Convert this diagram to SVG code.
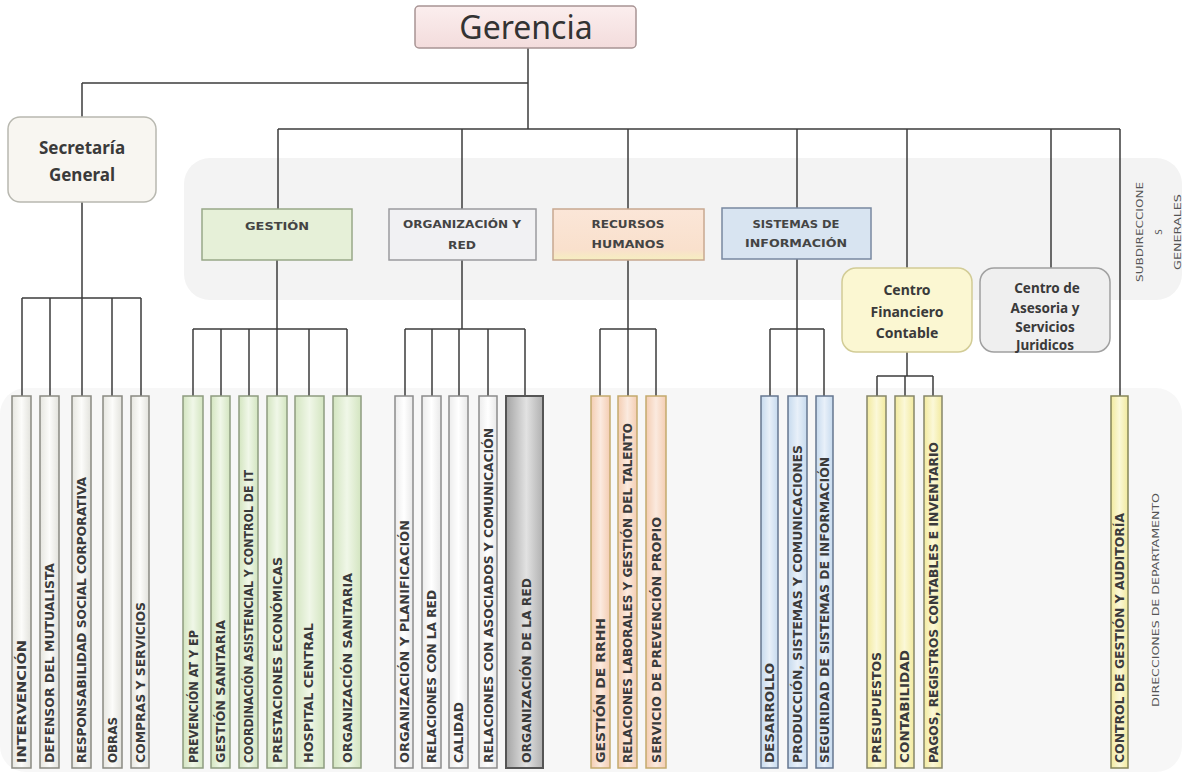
<svg xmlns="http://www.w3.org/2000/svg" width="1187" height="772" viewBox="0 0 1187 772">
<defs>
<style>
.ln{stroke:#3c3c3c;stroke-width:1.5;fill:none}
.col{stroke-width:1.5}
.ct{font-family:"DejaVu Sans Condensed","DejaVu Sans",sans-serif;font-weight:bold;font-size:12px;fill:#3a3a3a}
.bl{font-family:"DejaVu Sans Condensed","DejaVu Sans",sans-serif;font-weight:bold;font-size:11px;fill:#444;text-anchor:middle}
.nb{font-family:"Noto Sans","Open Sans",sans-serif;font-weight:bold;fill:#3a3a3a;text-anchor:middle}
.side{font-family:"DejaVu Sans Condensed","DejaVu Sans",sans-serif;font-size:9.5px;fill:#555;text-anchor:middle}
</style>
<linearGradient id="gGray" x1="0" x2="1" y1="0" y2="0"><stop offset="0" stop-color="#e6e6e0"/><stop offset="0.5" stop-color="#fcfcfa"/><stop offset="1" stop-color="#e2e2dc"/></linearGradient>
<linearGradient id="gGreen" x1="0" x2="1" y1="0" y2="0"><stop offset="0" stop-color="#d3e5c0"/><stop offset="0.5" stop-color="#f0f7e8"/><stop offset="1" stop-color="#d3e5c0"/></linearGradient>
<linearGradient id="gWhite" x1="0" x2="1" y1="0" y2="0"><stop offset="0" stop-color="#ececec"/><stop offset="0.5" stop-color="#ffffff"/><stop offset="1" stop-color="#e8e8e8"/></linearGradient>
<linearGradient id="gDark" x1="0" x2="1" y1="0" y2="0"><stop offset="0" stop-color="#a4a4a4"/><stop offset="0.55" stop-color="#e2e2e2"/><stop offset="1" stop-color="#b0b0b0"/></linearGradient>
<linearGradient id="gPeach" x1="0" x2="1" y1="0" y2="0"><stop offset="0" stop-color="#f4cdb2"/><stop offset="0.5" stop-color="#fbeadf"/><stop offset="1" stop-color="#f4cdb2"/></linearGradient>
<linearGradient id="gBlue" x1="0" x2="1" y1="0" y2="0"><stop offset="0" stop-color="#c6daee"/><stop offset="0.5" stop-color="#e8f0f9"/><stop offset="1" stop-color="#c6daee"/></linearGradient>
<linearGradient id="gYellow" x1="0" x2="1" y1="0" y2="0"><stop offset="0" stop-color="#f2ea9e"/><stop offset="0.5" stop-color="#fbf8d8"/><stop offset="1" stop-color="#f2ea9e"/></linearGradient>
<linearGradient id="gPink" x1="0" x2="0" y1="0" y2="1"><stop offset="0" stop-color="#fbeeee"/><stop offset="1" stop-color="#f3dcdc"/></linearGradient>
<linearGradient id="gRR" x1="0" x2="0" y1="0" y2="1"><stop offset="0" stop-color="#fbe6d8"/><stop offset="0.8" stop-color="#f9e0cc"/><stop offset="1" stop-color="#f6efc0"/></linearGradient>
</defs>
<rect width="1187" height="772" fill="#ffffff"/>
<g id="bands">
<rect x="184" y="158" width="998" height="142" rx="26" fill="#f3f3f3"/>
<rect x="0" y="388" width="1182" height="384" rx="26" fill="#f7f7f7"/>
</g>
<g id="connectors">
<path class="ln" d="M528 48V129M82 83H528M82 83V117M278 129H1120M278 129V209M462 129V209M628 129V209M797 129V208M907 129V268M1051 129V268M1120 129V396"/>
<path class="ln" d="M82 202V298M22 298H141M22 298V396M50 298V396M82 298V396M112 298V396M141 298V396"/>
<path class="ln" d="M277 260V329M193 329H347M193 329V396M221 329V396M249 329V396M277 329V396M309 329V396M347 329V396"/>
<path class="ln" d="M462 260V329M405 329H525M405 329V396M432 329V396M459 329V396M488 329V396M525 329V396"/>
<path class="ln" d="M628 260V329M600 329H656M600 329V396M628 329V396M656 329V396"/>
<path class="ln" d="M797 259V329M770 329H824M770 329V396M797 329V396M824 329V396"/>
<path class="ln" d="M907 352V376M877 376H933M877 376V396M905 376V396M933 376V396"/>
</g>
<g id="gerencia">
<rect x="415" y="6" width="221" height="42" rx="4" fill="url(#gPink)" stroke="#a89494" stroke-width="1.5"/>
<text x="526" y="39" font-family="'Noto Sans','Open Sans',sans-serif" font-size="32" fill="#333" text-anchor="middle">Gerencia</text>
</g>
<g id="secretaria">
<rect x="8" y="117" width="148" height="85" rx="12" fill="#f8f6f1" stroke="#b8b8b0" stroke-width="1.5"/>
<text class="nb" x="82" y="154" font-size="17">Secretaría</text>
<text class="nb" x="82" y="181" font-size="17">General</text>
</g>
<g id="gestion">
<rect x="202" y="209" width="150" height="51" fill="#e6f0d8" stroke="#98a888" stroke-width="1.5"/>
<text class="bl" x="277" y="230" textLength="64" lengthAdjust="spacingAndGlyphs">GESTIÓN</text>
</g>
<g id="organizacion">
<rect x="389" y="209" width="147" height="51" fill="#f1f1f3" stroke="#9a9a9e" stroke-width="1.5"/>
<text class="bl" x="462" y="228" textLength="118" lengthAdjust="spacingAndGlyphs">ORGANIZACIÓN Y</text>
<text class="bl" x="462" y="249" textLength="28" lengthAdjust="spacingAndGlyphs">RED</text>
</g>
<g id="rrhh">
<rect x="553" y="209" width="151" height="51" fill="url(#gRR)" stroke="#c8a890" stroke-width="1.5"/>
<text class="bl" x="628" y="228" textLength="73" lengthAdjust="spacingAndGlyphs">RECURSOS</text>
<text class="bl" x="628" y="248" textLength="73" lengthAdjust="spacingAndGlyphs">HUMANOS</text>
</g>
<g id="sistemas">
<rect x="722" y="208" width="149" height="51" fill="#d8e4f1" stroke="#7888a0" stroke-width="1.5"/>
<text class="bl" x="796" y="228" textLength="87" lengthAdjust="spacingAndGlyphs">SISTEMAS DE</text>
<text class="bl" x="796" y="247" textLength="102" lengthAdjust="spacingAndGlyphs">INFORMACIÓN</text>
</g>
<g id="centro-financiero">
<rect x="842" y="268" width="130" height="84" rx="14" fill="#fbf7d2" stroke="#d2cc96" stroke-width="1.5"/>
<text class="nb" x="907" y="295" font-size="14" font-weight="600">Centro</text>
<text class="nb" x="907" y="317" font-size="14" font-weight="600">Financiero</text>
<text class="nb" x="907" y="338" font-size="14" font-weight="600">Contable</text>
</g>
<g id="centro-asesoria">
<rect x="980" y="268" width="130" height="84" rx="14" fill="#efefef" stroke="#a0a0a0" stroke-width="1.5"/>
<text class="nb" x="1047" y="293" font-size="13.5" font-weight="600">Centro de</text>
<text class="nb" x="1045" y="313" font-size="13.5" font-weight="600">Asesoria y</text>
<text class="nb" x="1045" y="332" font-size="13.5" font-weight="600">Servicios</text>
<text class="nb" x="1045" y="350" font-size="13.5" font-weight="600">Juridicos</text>
</g>
<g id="sec-cols">
<rect class="col" x="12" y="396" width="19" height="372" fill="url(#gGray)" stroke="#8a8a82"/>
<rect class="col" x="40" y="396" width="19" height="372" fill="url(#gGray)" stroke="#8a8a82"/>
<rect class="col" x="72" y="396" width="19" height="372" fill="url(#gGray)" stroke="#8a8a82"/>
<rect class="col" x="103" y="396" width="19" height="372" fill="url(#gGray)" stroke="#8a8a82"/>
<rect class="col" x="131" y="396" width="18" height="372" fill="url(#gGray)" stroke="#8a8a82"/>
<text class="ct" transform="translate(26,763) rotate(-90)" textLength="123" lengthAdjust="spacingAndGlyphs">INTERVENCIÓN</text>
<text class="ct" transform="translate(54,763) rotate(-90)" textLength="200" lengthAdjust="spacingAndGlyphs">DEFENSOR DEL MUTUALISTA</text>
<text class="ct" transform="translate(86,763) rotate(-90)" textLength="286" lengthAdjust="spacingAndGlyphs">RESPONSABILIDAD SOCIAL CORPORATIVA</text>
<text class="ct" transform="translate(117,763) rotate(-90)" textLength="46" lengthAdjust="spacingAndGlyphs">OBRAS</text>
<text class="ct" transform="translate(144.5,763) rotate(-90)" textLength="161" lengthAdjust="spacingAndGlyphs">COMPRAS Y SERVICIOS</text>
</g>
<g id="gestion-cols">
<rect class="col" x="183" y="396" width="20" height="372" fill="url(#gGreen)" stroke="#8e9c80"/>
<rect class="col" x="211" y="396" width="19" height="372" fill="url(#gGreen)" stroke="#8e9c80"/>
<rect class="col" x="239" y="396" width="19" height="372" fill="url(#gGreen)" stroke="#8e9c80"/>
<rect class="col" x="267" y="396" width="20" height="372" fill="url(#gGreen)" stroke="#8e9c80"/>
<rect class="col" x="295" y="396" width="29" height="372" fill="url(#gGreen)" stroke="#8e9c80"/>
<rect class="col" x="333" y="396" width="28" height="372" fill="url(#gGreen)" stroke="#8e9c80"/>
<text class="ct" transform="translate(197.5,763) rotate(-90)" textLength="133" lengthAdjust="spacingAndGlyphs">PREVENCIÓN AT Y EP</text>
<text class="ct" transform="translate(225,763) rotate(-90)" textLength="143" lengthAdjust="spacingAndGlyphs">GESTIÓN SANITARIA</text>
<text class="ct" transform="translate(253,763) rotate(-90)" textLength="293" lengthAdjust="spacingAndGlyphs">COORDINACIÓN ASISTENCIAL Y CONTROL DE IT</text>
<text class="ct" transform="translate(281.5,763) rotate(-90)" textLength="206" lengthAdjust="spacingAndGlyphs">PRESTACIONES ECONÓMICAS</text>
<text class="ct" transform="translate(313,763) rotate(-90)" textLength="140" lengthAdjust="spacingAndGlyphs">HOSPITAL CENTRAL</text>
<text class="ct" transform="translate(351.5,763) rotate(-90)" textLength="190" lengthAdjust="spacingAndGlyphs">ORGANIZACIÓN SANITARIA</text>
</g>
<g id="org-cols">
<rect class="col" x="395" y="396" width="18" height="372" fill="url(#gWhite)" stroke="#8c8c8c"/>
<rect class="col" x="422" y="396" width="19" height="372" fill="url(#gWhite)" stroke="#8c8c8c"/>
<rect class="col" x="449" y="396" width="19" height="372" fill="url(#gWhite)" stroke="#8c8c8c"/>
<rect class="col" x="479" y="396" width="18" height="372" fill="url(#gWhite)" stroke="#8c8c8c"/>
<rect x="506" y="396" width="37" height="372" fill="url(#gDark)" stroke="#555" stroke-width="2"/>
<text class="ct" transform="translate(408.5,763) rotate(-90)" textLength="243" lengthAdjust="spacingAndGlyphs">ORGANIZACIÓN Y PLANIFICACIÓN</text>
<text class="ct" transform="translate(436,763) rotate(-90)" textLength="173" lengthAdjust="spacingAndGlyphs">RELACIONES CON LA RED</text>
<text class="ct" transform="translate(463,763) rotate(-90)" textLength="61" lengthAdjust="spacingAndGlyphs">CALIDAD</text>
<text class="ct" transform="translate(492.5,763) rotate(-90)" textLength="335" lengthAdjust="spacingAndGlyphs">RELACIONES CON ASOCIADOS Y COMUNICACIÓN</text>
<text class="ct" transform="translate(530.5,763) rotate(-90)" textLength="185" lengthAdjust="spacingAndGlyphs">ORGANIZACIÓN DE LA RED</text>
</g>
<g id="rrhh-cols">
<rect class="col" x="591" y="396" width="19" height="372" fill="url(#gPeach)" stroke="#c4aa6e"/>
<rect class="col" x="618" y="396" width="19" height="372" fill="url(#gPeach)" stroke="#c4aa6e"/>
<rect class="col" x="646" y="396" width="20" height="372" fill="url(#gPeach)" stroke="#c4aa6e"/>
<text class="ct" transform="translate(605,763) rotate(-90)" textLength="145" lengthAdjust="spacingAndGlyphs">GESTIÓN DE RRHH</text>
<text class="ct" transform="translate(632,763) rotate(-90)" textLength="340" lengthAdjust="spacingAndGlyphs">RELACIONES LABORALES Y GESTIÓN DEL TALENTO</text>
<text class="ct" transform="translate(660.5,763) rotate(-90)" textLength="246" lengthAdjust="spacingAndGlyphs">SERVICIO DE PREVENCIÓN PROPIO</text>
</g>
<g id="si-cols">
<rect class="col" x="761" y="396" width="17" height="372" fill="url(#gBlue)" stroke="#667790"/>
<rect class="col" x="788" y="396" width="19" height="372" fill="url(#gBlue)" stroke="#667790"/>
<rect class="col" x="816" y="396" width="17" height="372" fill="url(#gBlue)" stroke="#667790"/>
<text class="ct" transform="translate(774,763) rotate(-90)" textLength="100" lengthAdjust="spacingAndGlyphs">DESARROLLO</text>
<text class="ct" transform="translate(802,763) rotate(-90)" textLength="318" lengthAdjust="spacingAndGlyphs">PRODUCCIÓN, SISTEMAS Y COMUNICACIONES</text>
<text class="ct" transform="translate(829,763) rotate(-90)" textLength="306" lengthAdjust="spacingAndGlyphs">SEGURIDAD DE SISTEMAS DE INFORMACIÓN</text>
</g>
<g id="cf-cols">
<rect class="col" x="867" y="396" width="19" height="372" fill="url(#gYellow)" stroke="#86866a"/>
<rect class="col" x="895" y="396" width="19" height="372" fill="url(#gYellow)" stroke="#86866a"/>
<rect class="col" x="924" y="396" width="18" height="372" fill="url(#gYellow)" stroke="#86866a"/>
<text class="ct" transform="translate(881,763) rotate(-90)" textLength="111" lengthAdjust="spacingAndGlyphs">PRESUPUESTOS</text>
<text class="ct" transform="translate(909,763) rotate(-90)" textLength="113" lengthAdjust="spacingAndGlyphs">CONTABILIDAD</text>
<text class="ct" transform="translate(937.5,763) rotate(-90)" textLength="321" lengthAdjust="spacingAndGlyphs">PAGOS, REGISTROS CONTABLES E INVENTARIO</text>
</g>
<g id="control-col">
<rect class="col" x="1111" y="396" width="17" height="372" fill="url(#gYellow)" stroke="#86865a"/>
<text class="ct" transform="translate(1124,763) rotate(-90)" textLength="250" lengthAdjust="spacingAndGlyphs">CONTROL DE GESTIÓN Y AUDITORÍA</text>
</g>
<g id="side-labels">
<text class="side" transform="translate(1143,232) rotate(-90)" textLength="100" lengthAdjust="spacingAndGlyphs">SUBDIRECCIONE</text>
<text class="side" transform="translate(1162,232) rotate(-90)">S</text>
<text class="side" transform="translate(1181,232) rotate(-90)" textLength="76" lengthAdjust="spacingAndGlyphs">GENERALES</text>
<text class="side" transform="translate(1159,600) rotate(-90)" textLength="214" lengthAdjust="spacingAndGlyphs">DIRECCIONES  DE DEPARTAMENTO</text>
</g>
</svg>
